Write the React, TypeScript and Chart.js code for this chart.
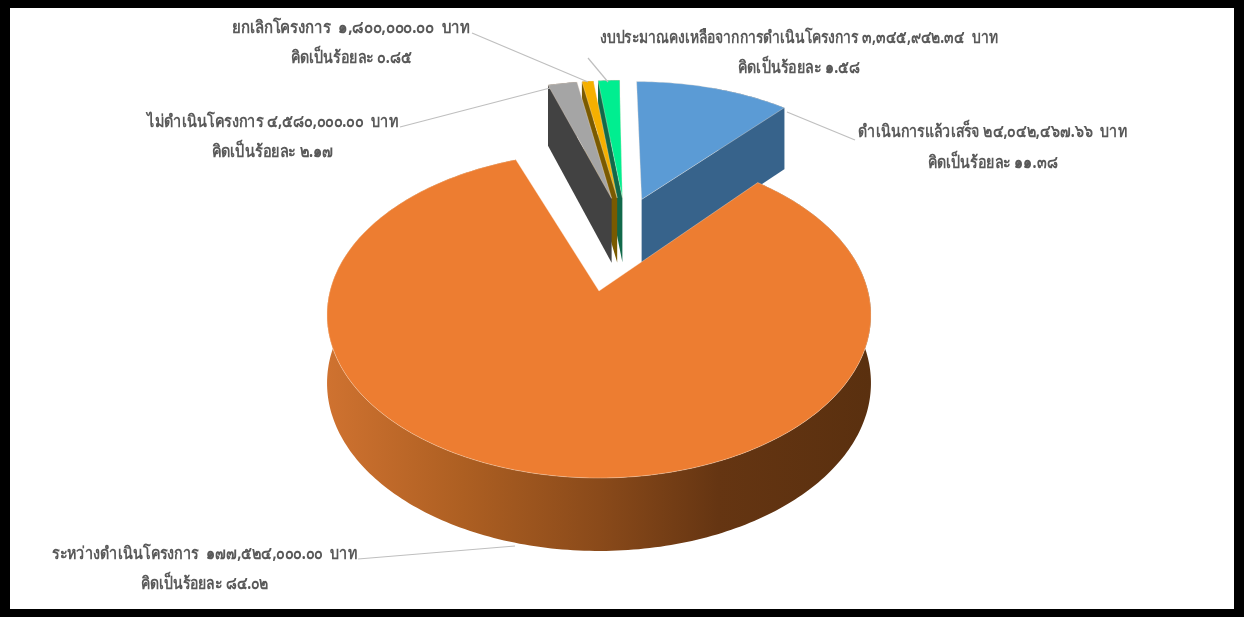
import React, { useEffect, useRef } from "react";
import { Chart, registerables } from "chart.js";

Chart.register(...registerables);

const categories = [
  "ดำเนินการแล้วเสร็จ",
  "ระหว่างดำเนินโครงการ",
  "ไม่ดำเนินโครงการ",
  "ยกเลิกโครงการ",
  "งบประมาณคงเหลือจากการดำเนินโครงการ",
];
const amounts = [24042467.66, 177524000.0, 4580000.0, 1800000.0, 3345942.34];
const labelFirstLines = [
  "ดำเนินการแล้วเสร็จ ๒๔,๐๔๒,๔๖๗.๖๖  บาท",
  "ระหว่างดำเนินโครงการ  ๑๗๗,๕๒๔,๐๐๐.๐๐  บาท",
  "ไม่ดำเนินโครงการ ๔,๕๘๐,๐๐๐.๐๐  บาท",
  "ยกเลิกโครงการ  ๑,๘๐๐,๐๐๐.๐๐  บาท",
  "งบประมาณคงเหลือจากการดำเนินโครงการ ๓,๓๔๕,๙๔๒.๓๔  บาท",
];
const labelSecondLines = [
  "คิดเป็นร้อยละ ๑๑.๓๘",
  "คิดเป็นร้อยละ ๘๔.๐๒",
  "คิดเป็นร้อยละ ๒.๑๗",
  "คิดเป็นร้อยละ ๐.๘๕",
  "คิดเป็นร้อยละ ๑.๕๘",
];
const topColors = ["#5B9BD5", "#ED7D31", "#A5A5A5", "#F5B000", "#00EE90"];
const sideColors = ["#37638B", "#8A4A1A", "#424242", "#7A5A00", "#11694A"];

// drawing style: the projection of the tilted pie, explosion of each slice, label layout
const VIEW = { ox: 599, oy: 291, a: 269, b: 159.5, k: 0.147, depth: 67.4 };
const EXPLODE = [0.2, 0.45, 0.2, 0.2, 0.2];
const NUDGE_U = [0.008, 0, 0, 0.004, 0.01];
const END_WARP = [0, -0.07, 0, 0, 0]; // the reference's projection opens this cut a little wider
const PAINT_ORDER = [4, 3, 2, 0, 1];
const LABEL_BOX = [
  { x: 992.5, y1: 132, y2: 163, w1: 269, w2: 130, from: [787, 112], to: [855, 140] },
  { x: 204.5, y1: 554, y2: 584, w1: 305, w2: 128, from: [515, 546], to: [358, 559] },
  { x: 272.5, y1: 122, y2: 152, w1: 251, w2: 122, from: [550, 88], to: [400, 127] },
  { x: 351, y1: 28, y2: 58, w1: 238, w2: 121, from: [588, 82], to: [472, 33] },
  { x: 799, y1: 38, y2: 68, w1: 398, w2: 122, from: [608, 82], to: [588, 58] },
];

function project(u: number, v: number, z: number) {
  const w = 1 + VIEW.k * v;
  return {
    x: VIEW.ox + (VIEW.a * u) / w,
    y: VIEW.oy - (VIEW.b * v) / w + (z * VIEW.depth) / Math.sqrt(w),
  };
}

const tiltedPie = {
  id: "tiltedPie",
  beforeDatasetDraw() {
    return false; // the arcs are painted through the projection below
  },
  beforeDraw(chart: any) {
    const { ctx, width, height } = chart;
    ctx.save();
    ctx.fillStyle = "#fff";
    ctx.fillRect(0, 0, width, height);
    ctx.restore();
  },
  afterDatasetsDraw(chart: any) {
    const { ctx, width, height } = chart;
    const arcs = chart.getDatasetMeta(0).data;
    const mid1 = (arcs[1].startAngle + arcs[1].endAngle) / 2 + Math.PI / 2;
    const base = { u: EXPLODE[1] * Math.sin(mid1), v: EXPLODE[1] * Math.cos(mid1) };

    ctx.save();
    for (const i of PAINT_ORDER) {
      const arc = arcs[i];
      const t0 = arc.startAngle + Math.PI / 2;
      const t1 = arc.endAngle + Math.PI / 2 + END_WARP[i];
      const mid = (arc.startAngle + arc.endAngle) / 2 + Math.PI / 2;
      const cu = EXPLODE[i] * Math.sin(mid) - base.u + NUDGE_U[i];
      const cv = EXPLODE[i] * Math.cos(mid) - base.v;
      const rim = (t: number, z: number) =>
        project(cu + Math.sin(t), cv + Math.cos(t), z);
      const steps = Math.max(8, Math.ceil(((t1 - t0) * 180) / Math.PI));
      const apexTop = project(cu, cv, 0);
      const apexBot = project(cu, cv, 1);

      // outer wall (the first slice's wall only shows at its far end)
      const wall0 = i === 0 ? mid : t0;
      ctx.beginPath();
      for (let s = 0; s <= steps; s++) {
        const p = rim(wall0 + ((t1 - wall0) * s) / steps, 0);
        s ? ctx.lineTo(p.x, p.y) : ctx.moveTo(p.x, p.y);
      }
      for (let s = steps; s >= 0; s--) {
        const p = rim(wall0 + ((t1 - wall0) * s) / steps, 1);
        ctx.lineTo(p.x, p.y);
      }
      ctx.closePath();
      if (i === 1) {
        const g = ctx.createLinearGradient(327, 0, 871, 0);
        g.addColorStop(0, "#CF7230");
        g.addColorStop(0.25, "#AD5F22");
        g.addColorStop(0.5, "#8A4A1A");
        g.addColorStop(0.72, "#653512");
        g.addColorStop(1, "#5A300F");
        ctx.fillStyle = g;
      } else {
        ctx.fillStyle = sideColors[i];
      }
      ctx.fill();

      // the cut wall that faces the viewer
      if (i !== 1) {
        const t = i === 0 ? t1 : t0;
        const a = rim(t, 0);
        const b = rim(t, 1);
        ctx.beginPath();
        ctx.moveTo(apexTop.x, apexTop.y);
        ctx.lineTo(a.x, a.y);
        ctx.lineTo(b.x, b.y);
        ctx.lineTo(apexBot.x, apexBot.y);
        ctx.closePath();
        ctx.fillStyle = sideColors[i];
        ctx.fill();
      }

      // top face
      ctx.beginPath();
      ctx.moveTo(apexTop.x, apexTop.y);
      for (let s = 0; s <= steps; s++) {
        const p = rim(t0 + ((t1 - t0) * s) / steps, 0);
        ctx.lineTo(p.x, p.y);
      }
      ctx.closePath();
      ctx.fillStyle = topColors[i];
      ctx.fill();
      ctx.strokeStyle = "rgba(255,235,215,0.35)";
      ctx.lineWidth = 1;
      ctx.stroke();
    }

    // leader lines and labels
    ctx.strokeStyle = "#BFBFBF";
    ctx.lineWidth = 1.2;
    ctx.fillStyle = "#595959";
    ctx.textAlign = "center";
    ctx.textBaseline = "middle";
    ctx.font = 'bold 17px "Noto Sans", "Liberation Sans", sans-serif';
    categories.forEach((_, i) => {
      const box = LABEL_BOX[i];
      ctx.beginPath();
      ctx.moveTo(box.from[0], box.from[1]);
      ctx.lineTo(box.to[0], box.to[1]);
      ctx.stroke();
      for (const [text, y, target] of [
        [labelFirstLines[i], box.y1, box.w1],
        [labelSecondLines[i], box.y2, box.w2],
      ] as [string, number, number][]) {
        ctx.save();
        ctx.translate(box.x, y);
        ctx.scale(target / ctx.measureText(text).width, 1);
        ctx.fillText(text, 0, 0);
        ctx.restore();
      }
    });

    // picture frame
    ctx.fillStyle = "#000";
    ctx.fillRect(0, 0, width, 8);
    ctx.fillRect(0, 609, width, height - 609);
    ctx.fillRect(0, 0, 10, height);
    ctx.fillRect(1234, 0, width - 1234, height);
    ctx.restore();
  },
};

export default function App() {
  const ref = useRef<HTMLCanvasElement>(null);
  useEffect(() => {
    const chart = new Chart(ref.current!, {
      type: "pie",
      data: {
        labels: categories,
        datasets: [{ data: amounts, backgroundColor: topColors, borderWidth: 0 }],
      },
      options: {
        animation: false,
        responsive: false,
        plugins: { legend: { display: false }, tooltip: { enabled: false } },
      },
      plugins: [tiltedPie],
    });
    return () => chart.destroy();
  }, []);
  return (
    <canvas
      ref={ref}
      width={1244}
      height={617}
      style={{ position: "fixed", left: 0, top: 0, display: "block" }}
    />
  );
}
